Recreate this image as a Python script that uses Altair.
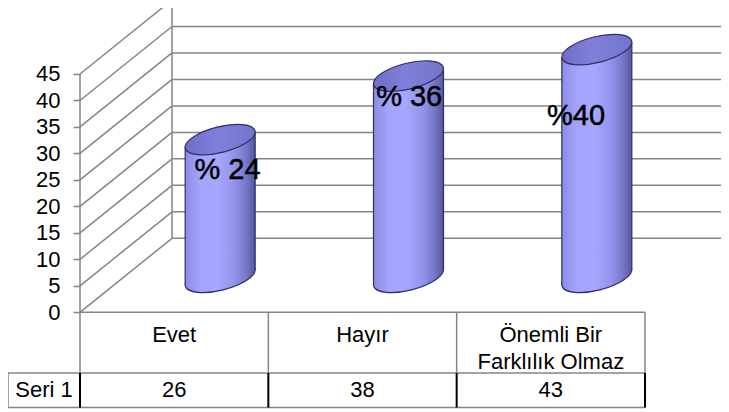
import math
import altair as alt
import pandas as pd

# ---------------- data ----------------
categories = ["Evet", "Hayır", "Önemli Bir Farklılık Olmaz"]
table_headers = ["Evet", "Hayır", "Önemli Bir\nFarklılık Olmaz"]
values = [26, 38, 43]
point_labels = ["% 24", "% 36", "%40"]
series_name = "Seri 1"
y_ticks = [0, 5, 10, 15, 20, 25, 30, 35, 40, 45]

# ---------------- geometry (styling constants, px) ----------------
PX_U = 188.33      # px per category slot
PX_V = 5.296       # px per value unit
W, H = 641, 404
PAD_L = 72
FRONT0 = 304.3     # px from top of the view to the front zero line


def u(px):
    return px / PX_U


def v(px):
    return px / PX_V


XMAX = W / PX_U
YMAX = v(FRONT0)
YMIN = YMAX - v(H)
NCAT = len(categories)

DEPTH_X, DEPTH_Y = u(92), v(74)     # oblique depth of the 3-D box
CYL_X, CYL_Y = u(46), v(35)         # cylinders sit mid-depth
HALF_W, TILT = u(35), v(7.5)        # cylinder radius / ellipse tilt
ROW1, ROW2 = -v(60.7), -v(95.2)     # data-table row bottoms
SERI_LEFT = -u(72)

xs = alt.Scale(domain=[0, XMAX], nice=False, zero=False)
ys = alt.Scale(domain=[YMIN, YMAX], nice=False, zero=False)

GRID = "#858585"
OUTLINE = "#2f2f68"
FONT = "Liberation Sans"

Y_AXIS = alt.Axis(
    values=y_ticks, domain=False, grid=False, ticks=True, tickSize=7,
    tickColor=GRID, tickWidth=1.5, labelFontSize=22, labelFont=FONT,
    labelColor="black", labelPadding=13, labelOverlap=False, title=None,
)


def X(field):
    return alt.X(field, scale=xs, axis=None)


def Y(field):
    return alt.Y(field, scale=ys, axis=Y_AXIS)


# ---------------- gridlines, walls, table borders ----------------
seg = []
top_tick = y_ticks[-1]
for t in y_ticks:
    seg.append(dict(x=0, y=t, x2=DEPTH_X, y2=t + DEPTH_Y, kind="gray"))
    seg.append(dict(x=DEPTH_X, y=t + DEPTH_Y, x2=XMAX, y2=t + DEPTH_Y, kind="gray"))
seg.append(dict(x=DEPTH_X, y=DEPTH_Y, x2=DEPTH_X, y2=top_tick + DEPTH_Y, kind="gray"))
seg.append(dict(x=0, y=top_tick, x2=0, y2=ROW1, kind="gray"))
seg.append(dict(x=0, y=0, x2=NCAT, y2=0, kind="gray"))
for i in range(1, NCAT + 1):
    seg.append(dict(x=i, y=0, x2=i, y2=ROW1, kind="gray"))
seg.append(dict(x=SERI_LEFT, y=ROW1, x2=NCAT, y2=ROW1, kind="gray"))
seg.append(dict(x=SERI_LEFT, y=ROW2, x2=NCAT, y2=ROW2, kind="gray"))
seg.append(dict(x=SERI_LEFT, y=ROW1, x2=SERI_LEFT, y2=ROW2, kind="gray"))
for i in range(0, NCAT + 1):
    seg.append(dict(x=i, y=ROW1, x2=i, y2=ROW2, kind="black"))
seg_df = pd.DataFrame(seg)


def seg_layer(kind, color, width):
    return alt.Chart(seg_df).transform_filter(alt.datum.kind == kind).mark_rule(
        color=color, strokeWidth=width
    ).encode(x=X("x:Q"), y=Y("y:Q"), x2="x2:Q", y2="y2:Q")


grid_gray = seg_layer("gray", GRID, 1.5)
grid_black = seg_layer("black", "#000000", 2)

# ---------------- cylinders ----------------
cyl = pd.DataFrame({
    "cat": categories,
    "value": values,
    "label": point_labels,
})
cyl["cx"] = [i + 0.5 + CYL_X for i in range(NCAT)]
cyl["base"] = CYL_Y
cyl["top"] = CYL_Y + cyl["value"]

body_rows = []
for _, r in cyl.iterrows():
    body_rows.append(dict(cat=r["cat"], x=r["cx"] - HALF_W, lo=r["base"] - TILT, hi=r["top"] - TILT))
    body_rows.append(dict(cat=r["cat"], x=r["cx"] + HALF_W, lo=r["base"] + TILT, hi=r["top"] + TILT))
body_df = pd.DataFrame(body_rows)


def ellipse_path(a=1.0, b=0.36, phi_deg=-14.0):
    kk = 0.5523
    pts = [(a, 0), (a, kk * b), (kk * a, b), (0, b), (-kk * a, b), (-a, kk * b), (-a, 0),
           (-a, -kk * b), (-kk * a, -b), (0, -b), (kk * a, -b), (a, -kk * b), (a, 0)]
    c, s = math.cos(math.radians(phi_deg)), math.sin(math.radians(phi_deg))
    rp = [(x * c - y * s, x * s + y * c) for x, y in pts]
    p = "M %.4f %.4f " % rp[0]
    for j in range(1, 13, 3):
        p += "C %.4f %.4f %.4f %.4f %.4f %.4f " % (rp[j] + rp[j + 1] + rp[j + 2])
    return p + "Z"


ELL = ellipse_path()
ELL_SIZE = 4 * (35 / 0.9742) ** 2

body_grad = alt.LinearGradient(
    gradient="linear", x1=0, x2=1, y1=0, y2=0,
    stops=[
        alt.GradientStop(color="#8c8ce6", offset=0),
        alt.GradientStop(color="#a4a4fc", offset=0.22),
        alt.GradientStop(color="#a7a7ff", offset=0.45),
        alt.GradientStop(color="#9696ee", offset=0.68),
        alt.GradientStop(color="#7a7acb", offset=0.86),
        alt.GradientStop(color="#5656a0", offset=1),
    ],
)
top_grad = alt.LinearGradient(
    gradient="linear", x1=0, x2=1, y1=0, y2=0,
    stops=[
        alt.GradientStop(color="#6e6ec6", offset=0),
        alt.GradientStop(color="#8080da", offset=0.45),
        alt.GradientStop(color="#7474ca", offset=1),
    ],
)

bottom_ell = alt.Chart(cyl).mark_point(
    shape=ELL, size=ELL_SIZE, filled=True, opacity=1, fill=body_grad,
    stroke=OUTLINE, strokeWidth=1.2,
).encode(x=X("cx:Q"), y=Y("base:Q"))

body = alt.Chart(body_df).mark_area(fill=body_grad, opacity=1).encode(
    x=X("x:Q"), y=Y("lo:Q"), y2="hi:Q", detail="cat:N",
)

edges = alt.Chart(body_df).mark_rule(color=OUTLINE, strokeWidth=1.2).encode(
    x=X("x:Q"), y=Y("lo:Q"), y2="hi:Q",
)

top_ell = alt.Chart(cyl).mark_point(
    shape=ELL, size=ELL_SIZE, filled=True, opacity=1, fill=top_grad,
    stroke=OUTLINE, strokeWidth=1.2,
).encode(x=X("cx:Q"), y=Y("top:Q"))

# data labels (hand-placed in the original)
label_dx = [7.3, 0.7, -20.8]
label_dy = [39.4, 29.9, 75.4]
label_layers = []
for i, cat in enumerate(categories):
    label_layers.append(
        alt.Chart(cyl).transform_filter(alt.datum.cat == cat).mark_text(
            font=FONT, fontSize=29, color="black", stroke="black", strokeWidth=0.5,
            align="center", baseline="alphabetic", dx=label_dx[i], dy=label_dy[i],
        ).encode(x=X("cx:Q"), y=Y("top:Q"), text="label:N")
    )

# ---------------- data table text ----------------
hdr = pd.DataFrame({"txt": table_headers, "x": [i + 0.5 for i in range(NCAT)]})
hdr["y"] = -v(29.7)
vals = pd.DataFrame({"txt": [str(x) for x in values] + [series_name],
                     "x": [i + 0.5 for i in range(NCAT)] + [SERI_LEFT / 2]})
vals["y"] = -v(84.6)

hdr_text = alt.Chart(hdr).mark_text(
    font=FONT, fontSize=22, color="black", align="center", baseline="alphabetic",
    lineBreak="\n", lineHeight=26.6,
).encode(x=X("x:Q"), y=Y("y:Q"), text="txt:N")

val_text = alt.Chart(vals).mark_text(
    font=FONT, fontSize=22, color="black", align="center", baseline="alphabetic",
).encode(x=X("x:Q"), y=Y("y:Q"), text="txt:N")

chart = alt.layer(
    grid_gray, grid_black,
    bottom_ell, body, edges, top_ell,
    *label_layers, hdr_text, val_text,
).properties(
    width=W, height=H,
    autosize=alt.AutoSizeParams(type="none"),
    padding={"left": PAD_L, "top": 0, "right": 0, "bottom": 0},
).configure_view(stroke=None)

chart.save("out.html", embed_options={"renderer": "svg", "actions": False})
